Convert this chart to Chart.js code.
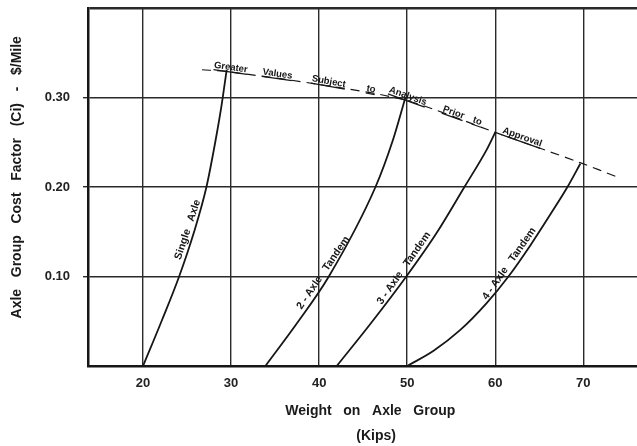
<!DOCTYPE html>
<html><head><meta charset="utf-8">
<script src="https://cdn.jsdelivr.net/npm/chart.js@4.4.0/dist/chart.umd.min.js"></script>
<style>html,body{margin:0;padding:0;background:#fff;overflow:hidden}#wrap{width:637px;height:446px}</style>
</head><body><div id="wrap"><canvas id="c" width="637" height="446"></canvas></div>
<script>
// ---- data ----
const xTicks = [20, 30, 40, 50, 60, 70];
const yTicks = [0, 0.1, 0.2, 0.3, 0.4];
const singleAxle  = [[20,0],[22.1,0.05],[24.1,0.1],[25.8,0.15],[27.2,0.2],[28.2,0.25],[28.9,0.29],[29.5,0.331]];
const axle2Tandem = [[33.9,0],[37.5,0.048],[41.1,0.1],[46.4,0.2],[48.4,0.253],[49.8,0.3]];
const axle3Tandem = [[42.0,0],[45.9,0.048],[49.9,0.1],[53.3,0.148],[56.5,0.2],[59.05,0.242],[60.0,0.261]];
const axle4Tandem = [[50,0],[53,0.017],[56,0.04],[59,0.07],[61.5,0.1],[64,0.135],[66.3,0.17],[68.2,0.2],[69.66,0.226]];
const approvalLimit = [[26.7,0.331],[29.5,0.329],[39.7,0.315],[49.8,0.297],[60.0,0.261],[69.7,0.227],[73.9,0.211]];
const seriesNames = ['Single   Axle', '2 - Axle   Tandem', '3 - Axle   Tandem', '4 - Axle   Tandem'];
const limitWords = ['Greater', 'Values', 'Subject', 'to', 'Analysis', 'Prior', 'to', 'Approval'];
const xTitle = ['    Weight   on   Axle   Group', '       (Kips)'];
const yTitle = '     Axle   Group   Cost   Factor   (Ci)   -   $/Mile';

const FONT = '"Liberation Sans", Arial, Helvetica, sans-serif';
const INK = '#161616';
const toXY = a => a.map(p => ({x: p[0], y: p[1]}));

function curveLine(arr) {
  return {data: toXY(arr), borderColor: INK, borderWidth: 1.8, pointRadius: 0,
          cubicInterpolationMode: 'monotone', fill: false};
}

// point on a polyline (pixel space) at a given value along one axis
function pointAt(chart, dsIndex, key, value) {
  const xs = chart.scales.x, ys = chart.scales.y;
  const pts = chart.data.datasets[dsIndex].data;
  for (let i = 0; i < pts.length - 1; i++) {
    const a = pts[i], b = pts[i + 1];
    const lo = Math.min(a[key], b[key]), hi = Math.max(a[key], b[key]);
    if (value >= lo && value <= hi) {
      const t = (value - a[key]) / (b[key] - a[key]);
      const ax = xs.getPixelForValue(a.x), ay = ys.getPixelForValue(a.y);
      const bx = xs.getPixelForValue(b.x), by = ys.getPixelForValue(b.y);
      return {x: ax + (bx - ax) * t, y: ay + (by - ay) * t, ang: Math.atan2(by - ay, bx - ax)};
    }
  }
  return null;
}

const labelPlugin = {
  id: 'curveText',
  afterDatasetsDraw(chart) {
    const ctx = chart.ctx;
    ctx.save();
    ctx.fillStyle = INK;
    // curve names, written along each curve
    const curveAt = [0.15, 0.10, 0.105, 0.11];
    ctx.font = 'bold 10.5px ' + FONT;
    ctx.textAlign = 'center';
    ctx.textBaseline = 'bottom';
    curveAt.forEach((v, i) => {
      const p = pointAt(chart, i, 'y', v);
      if (!p) return;
      ctx.save();
      ctx.translate(p.x, p.y);
      ctx.rotate(p.ang);
      ctx.fillText(seriesNames[i], 0, -1.5);
      ctx.restore();
    });
    // words along the dashed limit line
    const wordAt = [29.9, 35.2, 41.0, 45.8, 49.9, 55.1, 57.8, 62.9];
    ctx.font = 'bold 9.5px ' + FONT;
    ctx.textBaseline = 'alphabetic';
    wordAt.forEach((v, i) => {
      const p = pointAt(chart, 4, 'x', v);
      if (!p) return;
      ctx.save();
      ctx.translate(p.x, p.y);
      ctx.rotate(p.ang);
      const w = ctx.measureText(limitWords[i]).width;
      ctx.fillText(limitWords[i], 0, -2);
      ctx.fillRect(-w / 2, -0.6, w, 1.2);
      ctx.restore();
    });
    ctx.restore();
  }
};

Chart.defaults.font.family = FONT;

new Chart(document.getElementById('c'), {
  type: 'line',
  data: {
    datasets: [
      curveLine(singleAxle),
      curveLine(axle2Tandem),
      curveLine(axle3Tandem),
      curveLine(axle4Tandem),
      {data: toXY(approvalLimit), borderColor: INK, borderWidth: 1.2, borderDash: [9, 6],
       pointRadius: 0, tension: 0.3, fill: false}
    ]
  },
  options: {
    responsive: false,
    animation: false,
    parsing: false,
    layout: {padding: {top: 8, left: 0, right: 0, bottom: 0}},
    plugins: {legend: {display: false}, tooltip: {enabled: false}},
    scales: {
      x: {
        type: 'linear', min: 13.75, max: 76.1,
        afterBuildTicks: s => { s.ticks = xTicks.map(v => ({value: v})); },
        afterFit: s => { s.height = 80; s.paddingLeft = 0; s.paddingRight = 0; },
        grid: {color: '#2a2a2a', lineWidth: 1.4, drawTicks: false},
        border: {color: INK, width: 2.5},
        ticks: {padding: 10, color: '#222', font: {size: 13, weight: 'bold'}, maxRotation: 0,
                callback: v => String(v)},
        title: {display: true, text: xTitle, color: '#1a1a1a',
                font: {size: 14, weight: 'bold', lineHeight: '25px'}, padding: {top: 0, bottom: -3}}
      },
      y: {
        type: 'linear', min: 0, max: 0.4,
        afterBuildTicks: s => { s.ticks = yTicks.map(v => ({value: v})); },
        afterFit: s => { s.width = 88; s.paddingTop = 0; s.paddingBottom = 0; },
        grid: {color: '#2a2a2a',
               lineWidth: c => (c.tick && c.tick.value >= 0.39) ? 2.5 : 1.4,
               tickLength: 5,
               tickColor: c => (c.tick && c.tick.value > 0.05 && c.tick.value < 0.35) ? '#2a2a2a' : 'rgba(0,0,0,0)'},
        border: {color: INK, width: 2.5},
        ticks: {padding: 13, color: '#222', font: {size: 13, weight: 'bold'},
                callback: v => (v < 0.05 || v > 0.35) ? '' : v.toFixed(2)},
        title: {display: true, text: yTitle, color: '#1a1a1a',
                font: {size: 14, weight: 'bold'}, padding: {top: 9, bottom: 0}}
      }
    }
  },
  plugins: [labelPlugin]
});
</script></body></html>
